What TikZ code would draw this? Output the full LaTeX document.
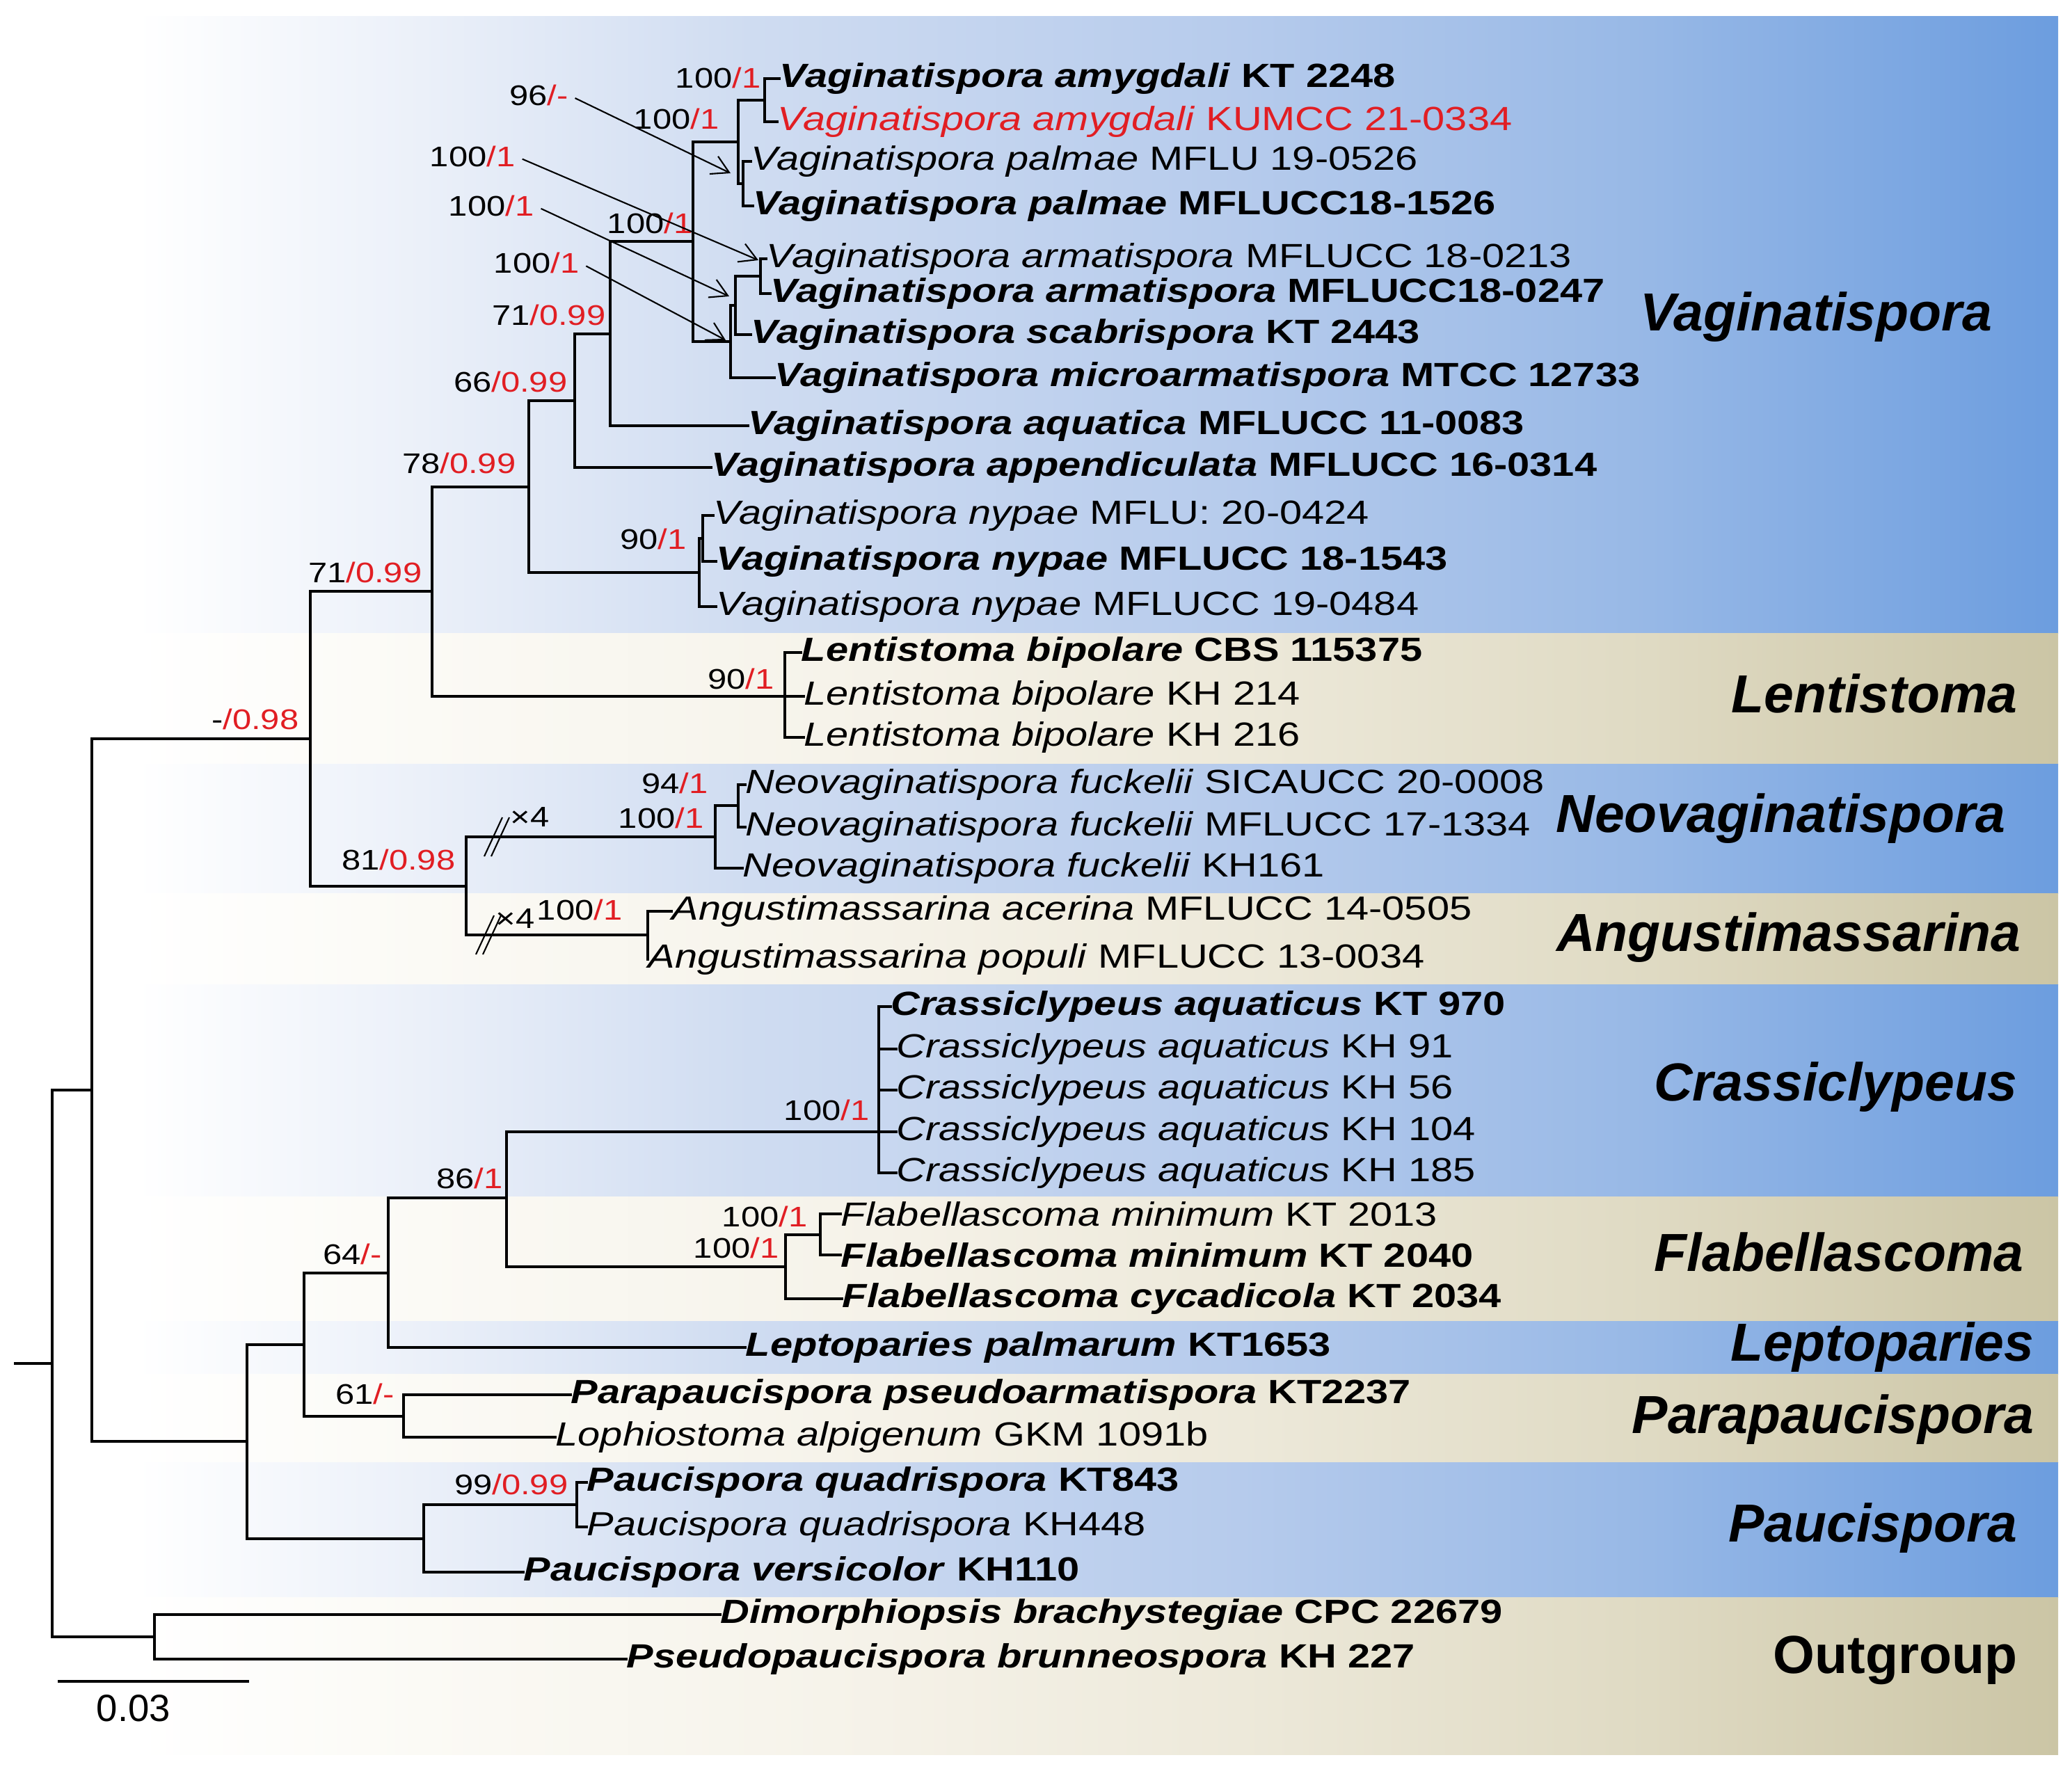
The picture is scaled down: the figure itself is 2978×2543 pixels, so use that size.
\documentclass[tikz,border=0pt]{standalone}
\usepackage{fontspec}
\setmainfont{Liberation Sans}
\newfontfamily\leaffont{Liberation Sans}[FakeStretch=1.2]
\usetikzlibrary{positioning}
\usetikzlibrary{arrows.meta}

\definecolor{supred}{RGB}{225,30,35}
\definecolor{blueA}{HTML}{EBF0F9}
\definecolor{blueB}{HTML}{CFDCF1}
\definecolor{blueC}{HTML}{B6CBEC}
\definecolor{blueD}{HTML}{97B8E6}
\definecolor{blueE}{HTML}{6C9DDF}
\definecolor{tanA}{HTML}{FBFAF5}
\definecolor{tanB}{HTML}{F6F3EA}
\definecolor{tanC}{HTML}{EDE9DA}
\definecolor{tanD}{HTML}{DFDAC3}
\definecolor{tanE}{HTML}{CBC5A5}
\pgfdeclarehorizontalshading{bluebar}{100bp}{color(0bp)=(white); color(25bp)=(white); color(28bp)=(white); color(35bp)=(blueA); color(43bp)=(blueB); color(55bp)=(blueC); color(65bp)=(blueD); color(75bp)=(blueE); color(100bp)=(blueE)}
\pgfdeclarehorizontalshading{tanbar}{100bp}{color(0bp)=(white); color(25bp)=(white); color(28bp)=(white); color(35bp)=(tanA); color(45bp)=(tanB); color(55bp)=(tanC); color(65bp)=(tanD); color(75bp)=(tanE); color(100bp)=(tanE)}

\newcommand{\bsup}[2]{#1{\color{supred}/#2}}
\newcommand{\typestr}[2]{\textbf{\textit{#1} #2}}
\newcommand{\strain}[2]{\textit{#1} #2}

\begin{document}
\begin{tikzpicture}[
	x=0.1mm, y=-0.1mm,
	branch/.style={line width=0.9pt, line cap=rect},
	leaf/.style={anchor=west, inner sep=0pt, font=\leaffont\fontsize{13.7pt}{15pt}\selectfont},
	bsv/.style={anchor=base east, inner sep=0pt, font=\leaffont\fontsize{11.6pt}{13pt}\selectfont},
	clade/.style={anchor=east, inner sep=0pt, font=\fontsize{21.9pt}{24pt}\selectfont\bfseries\itshape},
	pointer/.style={line width=0.6pt, shorten <=3pt, -{Straight Barb[length=7pt,width=8pt]}},
	blueband/.style={shading=bluebar},
	tanband/.style={shading=tanbar}
]
	\useasboundingbox (0,0) rectangle (2978,2543);

	% clade bands
	\shade[blueband] (20,23) rectangle (2958,910);
	\shade[tanband] (20,910) rectangle (2958,1098);
	\shade[blueband] (20,1098) rectangle (2958,1284);
	\shade[tanband] (20,1284) rectangle (2958,1415);
	\shade[blueband] (20,1415) rectangle (2958,1720);
	\shade[tanband] (20,1720) rectangle (2958,1899);
	\shade[blueband] (20,1899) rectangle (2958,1975);
	\shade[tanband] (20,1975) rectangle (2958,2102);
	\shade[blueband] (20,2102) rectangle (2958,2296);
	\shade[tanband] (20,2296) rectangle (2958,2522);

	\node[clade] (cVag) at (2864,456) {Vaginatispora};
	\node[clade] (cLen) at (2900,997) {Lentistoma};
	\node[clade] (cNeo) at (2883,1177) {Neovaginatispora};
	\node[clade] (cAng) at (2905,1348) {Angustimassarina};
	\node[clade] (cCra) at (2900,1563) {Crassiclypeus};
	\node[clade] (cFla) at (2909,1800) {Flabellascoma};
	\node[clade] (cLep) at (2924,1937) {Leptoparies};
	\node[clade] (cPar) at (2924,2041) {Parapaucispora};
	\node[clade] (cPau) at (2900,2197) {Paucispora};
	\node[clade] (cOut) at (2900,2387) {\upshape Outgroup};

	% taxa
	\node[leaf] (l1) at (1120,113) {\typestr{Vaginatispora amygdali}{KT 2248}};
	\node[leaf,text=supred] (l2) at (1117,175) {\strain{Vaginatispora amygdali}{KUMCC 21-0334}};
	\node[leaf] (l3) at (1079,232) {\strain{Vaginatispora palmae}{MFLU 19-0526}};
	\node[leaf] (l4) at (1082,296) {\typestr{Vaginatispora palmae}{MFLUCC18-1526}};
	\node[leaf] (l5) at (1101,372) {\strain{Vaginatispora armatispora}{MFLUCC 18-0213}};
	\node[leaf] (l6) at (1107,422) {\typestr{Vaginatispora armatispora}{MFLUCC18-0247}};
	\node[leaf] (l7) at (1079,481) {\typestr{Vaginatispora scabrispora}{KT 2443}};
	\node[leaf] (l8) at (1113,543) {\typestr{Vaginatispora microarmatispora}{MTCC 12733}};
	\node[leaf] (l9) at (1075,612) {\typestr{Vaginatispora aquatica}{MFLUCC 11-0083}};
	\node[leaf] (l10) at (1022,672) {\typestr{Vaginatispora appendiculata}{MFLUCC 16-0314}};
	\node[leaf] (l11) at (1025,741) {\strain{Vaginatispora nypae}{MFLU: 20-0424}};
	\node[leaf] (l12) at (1029,807) {\typestr{Vaginatispora nypae}{MFLUCC 18-1543}};
	\node[leaf] (l13) at (1029,872) {\strain{Vaginatispora nypae}{MFLUCC 19-0484}};
	\node[leaf] (l14) at (1151,938) {\typestr{Lentistoma bipolare}{CBS 115375}};
	\node[leaf] (l15) at (1155,1001) {\strain{Lentistoma bipolare}{KH 214}};
	\node[leaf] (l16) at (1155,1060) {\strain{Lentistoma bipolare}{KH 216}};
	\node[leaf] (l17) at (1071,1128) {\strain{Neovaginatispora fuckelii}{SICAUCC 20-0008}};
	\node[leaf] (l18) at (1071,1189) {\strain{Neovaginatispora fuckelii}{MFLUCC 17-1334}};
	\node[leaf] (l19) at (1067,1248) {\strain{Neovaginatispora fuckelii}{KH161}};
	\node[leaf] (l20) at (965,1310) {\strain{Angustimassarina acerina}{MFLUCC 14-0505}};
	\node[leaf] (l21) at (931,1379) {\strain{Angustimassarina populi}{MFLUCC 13-0034}};
	\node[leaf] (l22) at (1280,1447) {\typestr{Crassiclypeus aquaticus}{KT 970}};
	\node[leaf] (l23) at (1288,1508) {\strain{Crassiclypeus aquaticus}{KH 91}};
	\node[leaf] (l24) at (1288,1567) {\strain{Crassiclypeus aquaticus}{KH 56}};
	\node[leaf] (l25) at (1288,1627) {\strain{Crassiclypeus aquaticus}{KH 104}};
	\node[leaf] (l26) at (1288,1686) {\strain{Crassiclypeus aquaticus}{KH 185}};
	\node[leaf] (l27) at (1208,1745) {\strain{Flabellascoma minimum}{KT 2013}};
	\node[leaf] (l28) at (1208,1804) {\typestr{Flabellascoma minimum}{KT 2040}};
	\node[leaf] (l29) at (1210,1867) {\typestr{Flabellascoma cycadicola}{KT 2034}};
	\node[leaf] (l30) at (1071,1937) {\typestr{Leptoparies palmarum}{KT1653}};
	\node[leaf] (l31) at (820,2005) {\typestr{Parapaucispora pseudoarmatispora}{KT2237}};
	\node[leaf] (l32) at (798,2066) {\strain{Lophiostoma alpigenum}{GKM 1091b}};
	\node[leaf] (l33) at (843,2131) {\typestr{Paucispora quadrispora}{KT843}};
	\node[leaf] (l34) at (843,2195) {\strain{Paucispora quadrispora}{KH448}};
	\node[leaf] (l35) at (752,2260) {\typestr{Paucispora versicolor}{KH110}};
	\node[leaf] (l36) at (1035,2321) {\typestr{Dimorphiopsis brachystegiae}{CPC 22679}};
	\node[leaf] (l37) at (900,2385) {\typestr{Pseudopaucispora brunneospora}{KH 227}};

	% internal nodes
	\coordinate (stub) at (22,1960);
	\coordinate (nR) at (75,1960);
	\coordinate (nIn) at (132,1567);
	\coordinate (nO) at (222,2353);
	\coordinate (nB) at (446,1062);
	\coordinate (nM) at (355,2072);
	\coordinate (nC) at (621,850);
	\coordinate (nK) at (670,1274);
	\coordinate (nD) at (760,700);
	\coordinate (nL) at (1128,1001);
	\coordinate (nE) at (826,576);
	\coordinate (nN) at (1005,823);
	\coordinate (nNy) at (1010,774);
	\coordinate (nF) at (877,480);
	\coordinate (nG) at (996,347);
	\coordinate (nH) at (1061,204);
	\coordinate (nAm) at (1099,144);
	\coordinate (nPa) at (1068,264);
	\coordinate (nI) at (1050,491);
	\coordinate (nJ) at (1057,439);
	\coordinate (nAr) at (1093,397);
	\coordinate (nNeo) at (1028,1203);
	\coordinate (nNf) at (1061,1158);
	\coordinate (nAng) at (931,1344);
	\coordinate (nN1) at (437,1933);
	\coordinate (nU) at (609,2212);
	\coordinate (nQ) at (558,1830);
	\coordinate (nT) at (580,2036);
	\coordinate (nR2) at (728,1722);
	\coordinate (nCr) at (1263,1627);
	\coordinate (nS) at (1129,1821);
	\coordinate (nFm) at (1179,1775);
	\coordinate (nPq) at (829,2163);

	\draw[branch]
		(stub) -- (nR)
		(nR) |- (nIn) (nR) |- (nO)
		(nO) |- (l36.west) (nO) |- (l37.west)
		(nIn) |- (nB) (nIn) |- (nM)
		(nB) |- (nC) (nB) |- (nK)
		(nC) |- (nD) (nC) |- (nL)
		(nL) |- (l14.west) (nL) -- (l15.west) (nL) |- (l16.west)
		(nD) |- (nE) (nD) |- (nN)
		(nN) |- (nNy) (nN) |- (l13.west)
		(nNy) |- (l11.west) (nNy) |- (l12.west)
		(nE) |- (nF) (nE) |- (l10.west)
		(nF) |- (nG) (nF) |- (l9.west)
		(nG) |- (nH) (nG) |- (nI)
		(nH) |- (nAm) (nH) |- (nPa)
		(nAm) |- (l1.west) (nAm) |- (l2.west)
		(nPa) |- (l3.west) (nPa) |- (l4.west)
		(nI) |- (nJ) (nI) |- (l8.west)
		(nJ) |- (nAr) (nJ) |- (l7.west)
		(nAr) |- (l5.west) (nAr) |- (l6.west)
		(nK) |- (nNeo) (nK) |- (nAng)
		(nNeo) |- (nNf) (nNeo) |- (l19.west)
		(nNf) |- (l17.west) (nNf) |- (l18.west)
		(nAng) |- (l20.west) (nAng) |- (l21.west)
		(nM) |- (nN1) (nM) |- (nU)
		(nN1) |- (nQ) (nN1) |- (nT)
		(nQ) |- (nR2) (nQ) |- (l30.west)
		(nR2) |- (nCr) (nR2) |- (nS)
		(nCr) |- (l22.west) (nCr) |- (l23.west) (nCr) |- (l24.west)
		(nCr) |- (l25.west) (nCr) |- (l26.west)
		(nS) |- (nFm) (nS) |- (l29.west)
		(nFm) |- (l27.west) (nFm) |- (l28.west)
		(nT) |- (l31.west) (nT) |- (l32.west)
		(nU) |- (nPq) (nU) |- (l35.west)
		(nPq) |- (l33.west) (nPq) |- (l34.west)
	;

	% support values
	\node[bsv] (sAm) at (1094,126) {\bsup{100}{1}};
	\node[bsv] (s96) at (817,151) {\bsup{96}{-}};
	\node[bsv] (sH) at (1034,185) {\bsup{100}{1}};
	\node[bsv] (sAr) at (741,239) {\bsup{100}{1}};
	\node[bsv] (sJ) at (768,310) {\bsup{100}{1}};
	\node[bsv] (sG) at (996,335) {\bsup{100}{1}};
	\node[bsv] (sI) at (833,392) {\bsup{100}{1}};
	\node[bsv] (sF) at (871,467) {\bsup{71}{0.99}};
	\node[bsv] (sE) at (816,563) {\bsup{66}{0.99}};
	\node[bsv] (sD) at (742,680) {\bsup{78}{0.99}};
	\node[bsv] (sNy) at (987,789) {\bsup{90}{1}};
	\node[bsv] (sC) at (607,837) {\bsup{71}{0.99}};
	\node[bsv] (sL) at (1113,990) {\bsup{90}{1}};
	\node[bsv] (sB) at (430,1048) {\bsup{-}{0.98}};
	\node[bsv] (sNf) at (1018,1140) {\bsup{94}{1}};
	\node[bsv] (sNeo) at (1012,1190) {\bsup{100}{1}};
	\node[bsv] (sK) at (655,1250) {\bsup{81}{0.98}};
	\node[bsv] (sAng) at (895,1322) {\bsup{100}{1}};
	\node[bsv] (sCr) at (1250,1610) {\bsup{100}{1}};
	\node[bsv] (sR) at (723,1708) {\bsup{86}{1}};
	\node[bsv] (sFm) at (1161,1763) {\bsup{100}{1}};
	\node[bsv] (sS) at (1120,1808) {\bsup{100}{1}};
	\node[bsv] (sQ) at (549,1817) {\bsup{64}{-}};
	\node[bsv] (sT) at (567,2018) {\bsup{61}{-}};
	\node[bsv] (sPq) at (817,2148) {\bsup{99}{0.99}};

	\coordinate (t96) at (1050,249);
	\coordinate (tAr) at (1090,374);
	\coordinate (tJ) at (1048,426);
	\coordinate (tI) at (1043,489);
	\draw[pointer] (s96.east) -- (t96);
	\draw[pointer] (sAr.east) -- (tAr);
	\draw[pointer] (sJ.east) -- (tJ);
	\draw[pointer] (sI.east) -- (tI);

	% long branches cut
	\coordinate (bkNeo) at (715,1203);
	\coordinate (bkAng) at (703,1344);
	\draw[line width=0.6pt]
		(bkNeo) ++(-19,28) -- ++(26,-56)
		(bkNeo) ++(-9,28) -- ++(26,-56)
		(bkAng) ++(-19,28) -- ++(26,-56)
		(bkAng) ++(-9,28) -- ++(26,-56);
	\node[bsv, anchor=base west] (xNeo) at (733,1188) {×4};
	\node[bsv, anchor=base west] (xAng) at (712,1334) {×4};

	% scale bar
	\coordinate (sb1) at (85,2417);
	\coordinate (sb2) at (356,2417);
	\draw[branch] (sb1) -- (sb2);
	\node[font=\fontsize{15.5pt}{17pt}\selectfont] (sbl) at (192,2456) {0.03};
\end{tikzpicture}
\end{document}
